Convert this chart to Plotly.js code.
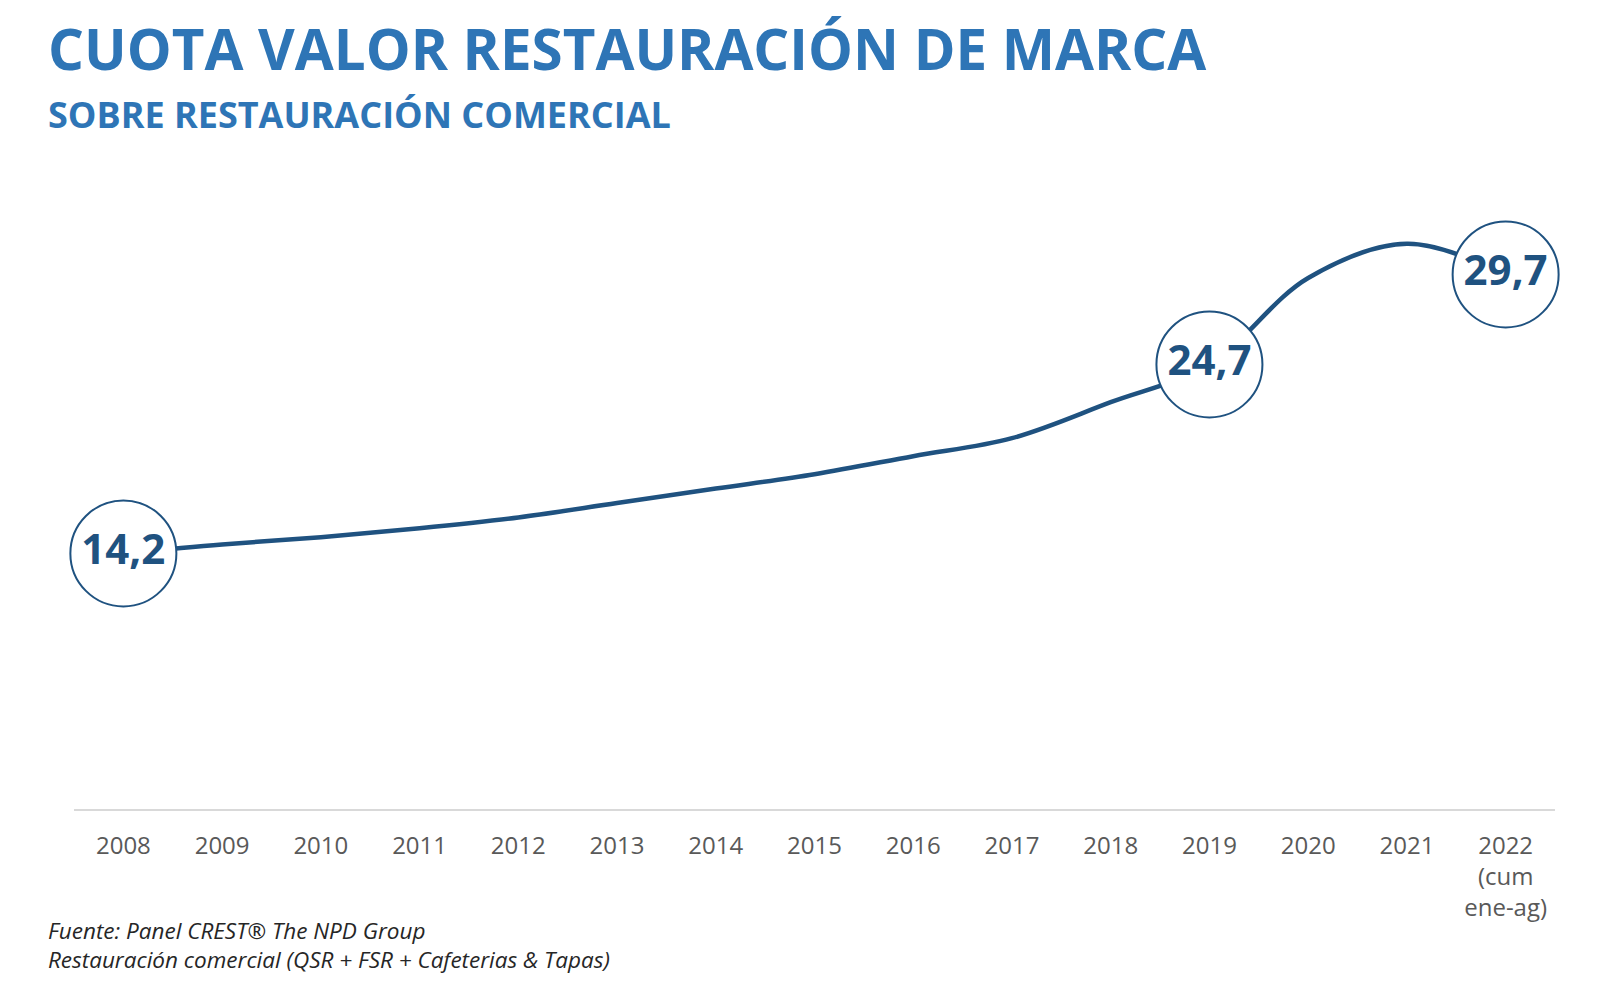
<!DOCTYPE html>
<html>
<head>
<meta charset="utf-8">
<script src="https://cdn.plot.ly/plotly-3.0.1.min.js"></script>
<style>html,body{margin:0;padding:0;background:#fff;}#chart{width:1606px;height:990px;}</style>
</head>
<body>
<div id="chart"></div>
<script>
// ---- data ----
const years = ['2008','2009','2010','2011','2012','2013','2014','2015','2016','2017','2018','2019','2020','2021','2022'];
const tickLabels = ['2008','2009','2010','2011','2012','2013','2014','2015','2016','2017','2018','2019','2020','2021','2022<br>(cum<br>ene-ag)'];
const share = [14.2, 14.7, 15.1, 15.6, 16.2, 17.0, 17.8, 18.6, 19.6, 20.6, 22.6, 24.7, 29.5, 31.4, 29.7];
const highlighted = ['2008','2019','2022'];

const titleText = 'CUOTA VALOR RESTAURACIÓN DE MARCA';
const subtitleText = 'SOBRE RESTAURACIÓN COMERCIAL';
const sourceLines = ['Fuente: Panel CREST® The NPD Group', 'Restauración comercial (QSR + FSR + Cafeterias &amp; Tapas)'];

// ---- derived ----
const hlX = highlighted;
const hlY = highlighted.map(y => share[years.indexOf(y)]);
const hlText = hlY.map(v => v.toFixed(1).replace('.', ','));

const lineColor = '#1F5280';
const titleColor = '#2E75B6';
const font = 'Open Sans, Lato, Noto Sans, sans-serif';

const traces = [
  {
    x: years, y: share, type: 'scatter', mode: 'lines',
    line: {color: lineColor, width: 4.5, shape: 'spline', smoothing: 1},
    hoverinfo: 'skip', cliponaxis: false
  },
  {
    x: hlX, y: hlY, type: 'scatter', mode: 'markers+text',
    marker: {size: 106, color: '#ffffff', line: {color: lineColor, width: 2}},
    text: hlText, textposition: 'middle center',
    textfont: {family: font, size: 42, color: lineColor, weight: 'bold'},
    cliponaxis: false, hoverinfo: 'skip'
  }
];

const L = 74, R = 51, T = 161, B = 181;
const plotW = 1606 - L - R, plotH = 990 - T - B;
const px = x => (x - L) / plotW;
const py = y => (990 - B - y) / plotH;

const layout = {
  width: 1606, height: 990,
  margin: {l: L, r: R, t: T, b: B, pad: 0},
  paper_bgcolor: '#ffffff', plot_bgcolor: '#ffffff',
  showlegend: false,
  font: {family: font, color: '#595959'},
  xaxis: {
    type: 'category', range: [-0.5, 14.5],
    tickvals: years, ticktext: tickLabels,
    showgrid: false, zeroline: false,
    showline: true, linecolor: '#D9D9D9', linewidth: 2,
    ticks: '', ticklabelstandoff: 14,
    tickfont: {family: font, size: 24, color: '#595959'},
    fixedrange: true
  },
  yaxis: {
    range: [0, 36], visible: false, showgrid: false, zeroline: false, fixedrange: true
  },
  annotations: [
    {text: titleText, xref: 'paper', yref: 'paper', x: px(46), y: py(48), xanchor: 'left', yanchor: 'middle',
     showarrow: false, font: {family: font, size: 56.5, color: titleColor, weight: 'bold'}},
    {text: subtitleText, xref: 'paper', yref: 'paper', x: px(46), y: py(115), xanchor: 'left', yanchor: 'middle',
     showarrow: false, font: {family: font, size: 36, color: titleColor, weight: 'bold'}},
    {text: '<i>' + sourceLines.join('<br>') + '</i>', xref: 'paper', yref: 'paper', x: px(46), y: py(945), xanchor: 'left', yanchor: 'middle',
     align: 'left', showarrow: false, font: {family: font, size: 22.5, color: '#262626'}}
  ]
};

Plotly.newPlot('chart', traces, layout, {staticPlot: true, displayModeBar: false});
</script>
</body>
</html>
